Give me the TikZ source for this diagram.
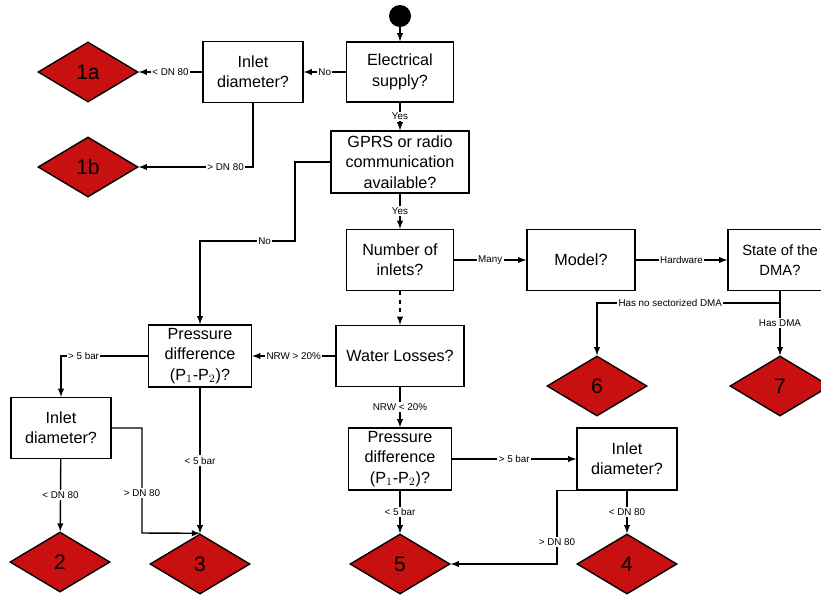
\documentclass[tikz,border=0pt]{standalone}
\usepackage{fontspec}
\setmainfont{Liberation Sans}
\usepackage{tikz}
\usepackage{xcolor}
\usetikzlibrary{shapes.geometric}

\definecolor{endred}{HTML}{C81010}

\tikzset{
  qbox/.style={draw, line width=1pt, fill=white, align=center, inner sep=0pt,
    minimum width=2.675cm, minimum height=1.5cm,
    font=\fontsize{11.5}{14.5}\selectfont},
  outcome/.style={diamond, draw, line width=1pt, fill=endred, inner sep=0pt,
    minimum width=2.5cm, minimum height=1.5cm, font=\fontsize{15}{15}\selectfont},
  lbl/.style={fill=white, inner sep=1pt, font=\fontsize{7}{8}\selectfont},
  flow/.style={->, >=latex, line width=1pt}
}

\begin{document}
\begin{tikzpicture}[x=0.025cm, y=-0.025cm]
  \useasboundingbox (0,0) rectangle (821,594);

  % Start
  \node[circle, fill=black, minimum size=0.55cm, inner sep=0pt] (start) at (400,16) {};

  % Questions
  \node[qbox] (elec) at (400,72) {Electrical\\supply?};
  \node[qbox, minimum width=2.5cm, minimum height=1.525cm] (inA) at (253,72) {Inlet\\diameter?};
  \node[qbox, minimum width=3.45cm, minimum height=1.55cm] (gprs) at (400,162) {GPRS or radio\\communication\\available?};
  \node[qbox, minimum height=1.525cm] (inlets) at (400,260) {Number of\\inlets?};
  \node[qbox, minimum width=2.7cm, minimum height=1.525cm] (model) at (581,260) {Model?};
  \node[qbox, minimum width=2.6cm, minimum height=1.525cm, font=\fontsize{10.5}{14}\selectfont] (state) at (780,260) {State of the\\DMA?};
  \node[qbox, minimum width=3.2cm, minimum height=1.525cm] (water) at (400,356) {Water Losses?};
  \node[qbox, minimum width=2.575cm, minimum height=1.55cm] (pdA) at (200,356) {Pressure\\difference\\(P$_1$-P$_2$)?};
  \node[qbox, minimum width=2.5cm, minimum height=1.525cm] (inB) at (61,428) {Inlet\\diameter?};
  \node[qbox, minimum width=2.575cm, minimum height=1.55cm] (pdB) at (400,459) {Pressure\\difference\\(P$_1$-P$_2$)?};
  \node[qbox, minimum width=2.5cm, minimum height=1.55cm] (inC) at (627,459) {Inlet\\diameter?};

  % Outcomes
  \node[outcome] (o1a) at (88,72) {1a};
  \node[outcome] (o1b) at (88,167) {1b};
  \node[outcome] (o2) at (60,562) {2};
  \node[outcome] (o3) at (200,564) {3};
  \node[outcome] (o4) at (627,564) {4};
  \node[outcome] (o5) at (400,564) {5};
  \node[outcome] (o6) at (597,386) {6};
  \node[outcome] (o7) at (780,386) {7};

  % Bends
  \coordinate (gprsNo) at (295,241);
  \coordinate (stateBr) at (780,303);
  \coordinate (inB3) at (142,533);
  \coordinate (inC5) at (557,564);

  % Connectors
  \draw[flow] (start) -- (elec);
  \draw[flow] (elec) -- node[lbl] {No} (inA);
  \draw[flow] (inA) -- node[lbl] {< DN 80} (o1a);
  \draw[flow] (inA.south) |- node[lbl, pos=0.62] {> DN 80} (o1b.east);
  \draw[flow] (elec) -- node[lbl] {Yes} (gprs);
  \draw[flow] (gprs) -- node[lbl] {Yes} (inlets);
  \draw[flow] (gprs.west) -| (gprsNo) -| node[lbl, pos=0.16] {No} (pdA.north);
  \draw[flow] (inlets) -- node[lbl] {Many} (model);
  \draw[flow, dashed] (inlets) -- (water);
  \draw[flow] (model) -- node[lbl] {Hardware} (state);
  \draw[flow] (state) -- node[lbl] {Has DMA} (o7);
  \draw[flow] (stateBr) -| node[lbl, pos=0.3] {Has no sectorized DMA} (o6.north);
  \draw[flow] (water) -- node[lbl] {NRW > 20\%} (pdA);
  \draw[flow] (water) -- node[lbl] {NRW < 20\%} (pdB);
  \draw[flow] (pdA.west) -| node[lbl, pos=0.37] {> 5 bar} (inB.north);
  \draw[flow] (pdA) -- node[lbl] {< 5 bar} (o3);
  \draw[flow] (inB) -- node[lbl] {< DN 80} (o2);
  \draw[flow] (inB.east) -| node[lbl, pos=0.81] {> DN 80} (inB3) -- (o3.north);
  \draw[flow] (pdB) -- node[lbl] {> 5 bar} (inC);
  \draw[flow] (pdB) -- node[lbl] {< 5 bar} (o5);
  \draw[flow] (inC) -- node[lbl] {< DN 80} (o4);
  \draw[flow] (inC.south west) -| node[lbl, pos=0.85] {> DN 80} (inC5) -- (o5.east);
\end{tikzpicture}
\end{document}
